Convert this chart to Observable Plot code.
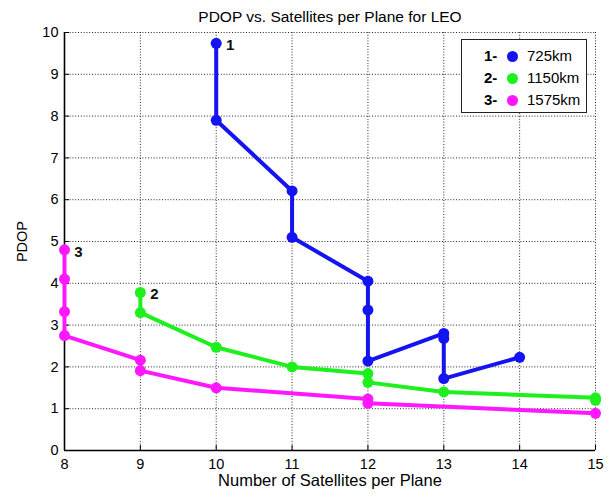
<!DOCTYPE html>
<html>
<head>
<meta charset="utf-8">
<script src="https://cdn.jsdelivr.net/npm/d3@7"></script>
<script src="https://cdn.jsdelivr.net/npm/@observablehq/plot@0.6"></script>
<style>
  html, body { margin: 0; padding: 0; background: #fff; }
  #wrap { position: relative; width: 613px; height: 497px; font-family: "Liberation Sans", Arial, sans-serif; }
  #legend { position: absolute; left: 461px; top: 39px; width: 124px; height: 72px; border: 1.5px solid #222; background: #fff; font-size: 15px; }
  .row { position: absolute; left: 0; height: 20px; line-height: 20px; }
  .row .id { position: absolute; left: 22px; font-weight: bold; }
  .row .dot { position: absolute; left: 45px; top: 4.5px; width: 11px; height: 11px; border-radius: 50%; }
  .row .lbl { position: absolute; left: 65px; }
</style>
</head>
<body>
<div id="wrap"></div>
<script>
const title = "PDOP vs. Satellites per Plane for LEO";
const xLabel = "Number of Satellites per Plane";
const yLabel = "PDOP";
const xTicks = [8, 9, 10, 11, 12, 13, 14, 15];
const yTicks = [0, 1, 2, 3, 4, 5, 6, 7, 8, 9, 10];

const seriesIds = ["1", "2", "3"];
const seriesNames = ["725km", "1150km", "1575km"];
const seriesColors = ["#1414f0", "#1ef01e", "#ff18ff"];

const x725 = [10, 10, 11, 11, 12, 12, 12, 13, 13, 13, 14];
const y725 = [9.74, 7.9, 6.21, 5.1, 4.05, 3.36, 2.14, 2.8, 2.68, 1.72, 2.23];
const x1150 = [9, 9, 10, 11, 12, 12, 13, 15, 15];
const y1150 = [3.78, 3.3, 2.47, 2.0, 1.84, 1.63, 1.4, 1.26, 1.2];
const x1575 = [8, 8, 8, 8, 9, 9, 10, 12, 12, 15];
const y1575 = [4.8, 4.1, 3.32, 2.75, 2.16, 1.91, 1.5, 1.23, 1.13, 0.89];

const xs = [x725, x1150, x1575];
const ys = [y725, y1150, y1575];
const data = [];
seriesIds.forEach((id, i) => xs[i].forEach((x, j) => data.push({id, x, y: ys[i][j], order: j})));
const firsts = seriesIds.map((id, i) => ({id, x: xs[i][0], y: ys[i][0]}));

const color = {domain: seriesIds, range: seriesColors};

const chart = Plot.plot({
  width: 613,
  height: 497,
  marginLeft: 64,
  marginRight: 18,
  marginTop: 32,
  marginBottom: 47,
  style: {fontFamily: "'Liberation Sans', Arial, sans-serif", fontSize: "14px", background: "#fff", color: "#000"},
  x: {domain: [8, 15], label: null},
  y: {domain: [0, 10], label: null},
  color,
  marks: [
    Plot.gridX(xTicks, {stroke: "#000", strokeOpacity: 0.85, strokeDasharray: "1,1.8"}),
    Plot.gridY(yTicks, {stroke: "#000", strokeOpacity: 0.85, strokeDasharray: "1,1.8"}),
    Plot.axisX(xTicks, {tickSize: 0, tickPadding: 8, fontSize: 14.5, tickFormat: d => d}),
    Plot.axisY(yTicks, {tickSize: 0, tickPadding: 6, fontSize: 14.5, tickFormat: d => d}),
    Plot.axisX(xTicks, {tickSize: -5, text: null, stroke: "#000"}),
    Plot.axisY(yTicks, {tickSize: -5, text: null, stroke: "#000"}),
    Plot.ruleY([0], {stroke: "#000", strokeWidth: 1.6}),
    Plot.ruleX([8], {stroke: "#000", strokeWidth: 1.6}),
    Plot.line(data, {x: "x", y: "y", z: "id", stroke: "id", strokeWidth: 4, sort: null}),
    Plot.dot(data, {x: "x", y: "y", fill: "id", r: 5.5, stroke: "none"}),
    Plot.text(firsts, {x: "x", y: "y", text: "id", dx: 14, dy: 2, fontWeight: "bold", fontSize: 15, fill: "#111"}),
    Plot.text([title], {frameAnchor: "top", dy: -22, fontSize: 15.5, fill: "#000"}),
    Plot.text([xLabel], {frameAnchor: "bottom", dy: 35, fontSize: 16.5, fill: "#000"}),
    Plot.text([yLabel], {frameAnchor: "left", dx: -42, rotate: -90, textAnchor: "middle", fontSize: 14.5, fill: "#000"})
  ]
});

const wrap = document.getElementById("wrap");
wrap.appendChild(chart);
const legend = document.createElement("div");
legend.id = "legend";
seriesIds.forEach((id, i) => {
  const row = document.createElement("div");
  row.className = "row";
  row.style.top = (6 + i * 22) + "px";
  row.style.width = "100%";
  row.innerHTML = `<span class="id">${id}-</span><span class="dot" style="background:${seriesColors[i]}"></span><span class="lbl">${seriesNames[i]}</span>`;
  legend.appendChild(row);
});
wrap.appendChild(legend);
</script>
</body>
</html>
